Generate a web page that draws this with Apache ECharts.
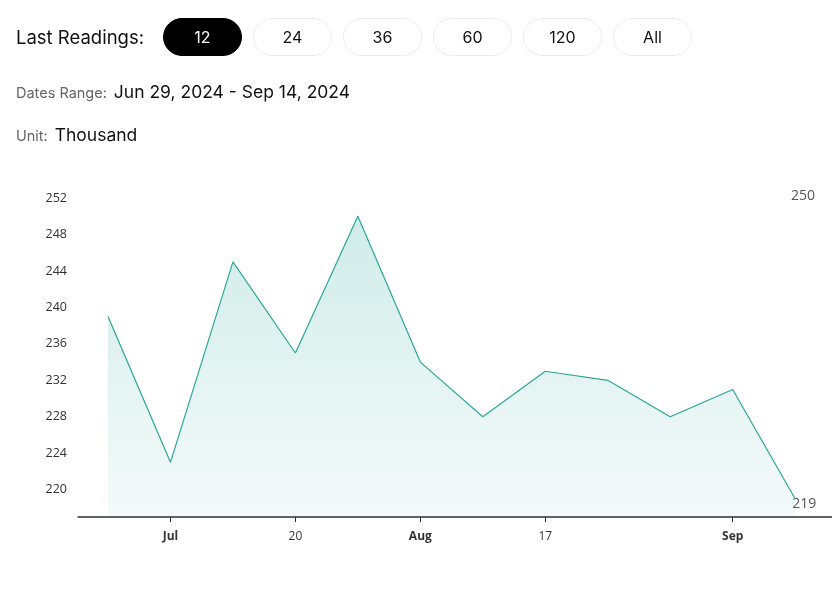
<!DOCTYPE html>
<html>
<head>
<meta charset="utf-8">
<script src="https://cdn.jsdelivr.net/npm/echarts@6/dist/echarts.min.js"></script>
<style>
  html, body { margin: 0; padding: 0; background: #fff; }
  body { width: 832px; height: 589px; position: relative; overflow: hidden; font-family: Inter, "Noto Sans", sans-serif; }
  #hdr { position: absolute; left: 16px; top: 18px; display: flex; align-items: center; }
  #hdr .lbl { font-size: 18.5px; color: #111; width: 147px; }
  .btn { width: 77px; height: 36px; border: 1px solid #ececec; border-radius: 19px; display: flex; align-items: center; justify-content: center; font-size: 16px; color: #111; margin-right: 11px; box-sizing: content-box; }
  .btn.on { background: #000; color: #fff; border-color: #000; }
  .info { position: absolute; left: 16px; font-size: 17.5px; color: #111; }
  .info span { font-size: 14.5px; color: #666; margin-right: 2px; }
  #chart { position: absolute; left: 0; top: 0; width: 832px; height: 589px; }
</style>
</head>
<body>
<div id="chart"></div>
<div id="hdr"><div class="lbl">Last Readings:</div></div>
<div class="info" style="top:81px"><span>Dates Range:</span> <b style="font-weight:400" id="range"></b></div>
<div class="info" style="top:124px"><span>Unit:</span> Thousand</div>
<script>
const buttons = ["12", "24", "36", "60", "120", "All"];
const dates = ["Jun 29", "Jul 6", "Jul 13", "Jul 20", "Jul 27", "Aug 3", "Aug 10", "Aug 17", "Aug 24", "Aug 31", "Sep 7", "Sep 14"];
const values = [239, 223, 245, 235, 250, 234, 228, 233, 232, 228, 231, 219];
const xTickIndex = [1, 3, 5, 7, 10];
const xTickLabels = ["Jul", "20", "Aug", "17", "Sep"];
const yTicks = [220, 224, 228, 232, 236, 240, 244, 248, 252];
const dateRange = "Jun 29, 2024 - Sep 14, 2024";

const hdr = document.getElementById('hdr');
buttons.forEach((b, i) => {
  const d = document.createElement('div');
  d.className = 'btn' + (i === 0 ? ' on' : '');
  d.textContent = b;
  hdr.appendChild(d);
});
document.getElementById('range').textContent = dateRange;

const chart = echarts.init(document.getElementById('chart'));
const boldMonths = { Jul: 1, Aug: 1, Sep: 1 };
chart.setOption({
  animation: false,
  grid: { left: 78, right: 0, top: 189, bottom: 72 },
  xAxis: {
    type: 'value',
    min: -0.48,
    max: 11.59,
    splitLine: { show: false },
    axisLine: { show: true, onZero: false, lineStyle: { color: '#2b2b3a', width: 1.5 } },
    axisTick: { show: true, length: 5, customValues: xTickIndex, lineStyle: { color: '#2b2b3a' } },
    axisLabel: {
      customValues: xTickIndex,
      margin: 14,
      fontSize: 12,
      fontFamily: 'Open Sans',
      color: '#333',
      formatter: v => {
        const t = xTickLabels[xTickIndex.indexOf(Math.round(v))] || '';
        return boldMonths[t] ? '{b|' + t + '}' : t;
      },
      rich: { b: { fontWeight: 'bold', fontSize: 12, fontFamily: 'Open Sans', color: '#333' } }
    }
  },
  yAxis: {
    type: 'value',
    min: 217,
    max: 253,
    splitLine: { show: false },
    axisLine: { show: false },
    axisTick: { show: false },
    axisLabel: { customValues: yTicks, margin: 11, fontSize: 12.5, fontFamily: 'Open Sans', color: '#333' }
  },
  series: [{
    type: 'line',
    data: values.map((v, i) => [i, v]),
    showSymbol: false,
    lineStyle: { color: '#2aa898', width: 1.2 },
    areaStyle: {
      opacity: 1,
      color: new echarts.graphic.LinearGradient(0, 0, 0, 1, [
        { offset: 0, color: 'rgba(42,168,152,0.22)' },
        { offset: 1, color: 'rgba(42,168,152,0.05)' }
      ])
    }
  }]
});

const last = values.length - 1;
const p = chart.convertToPixel({ gridIndex: 0 }, [last, values[last]]);
chart.setOption({
  graphic: [
    { type: 'text', right: 17, top: 189, style: { text: String(Math.max(...values)), fontSize: 14, fontFamily: 'Open Sans', fill: '#555' } },
    { type: 'text', x: p[0] - 3, y: p[1] + 5, style: { text: String(values[last]), fontSize: 14, fontFamily: 'Open Sans', fill: '#555', verticalAlign: 'middle', align: 'left' } }
  ]
});
</script>
</body>
</html>
